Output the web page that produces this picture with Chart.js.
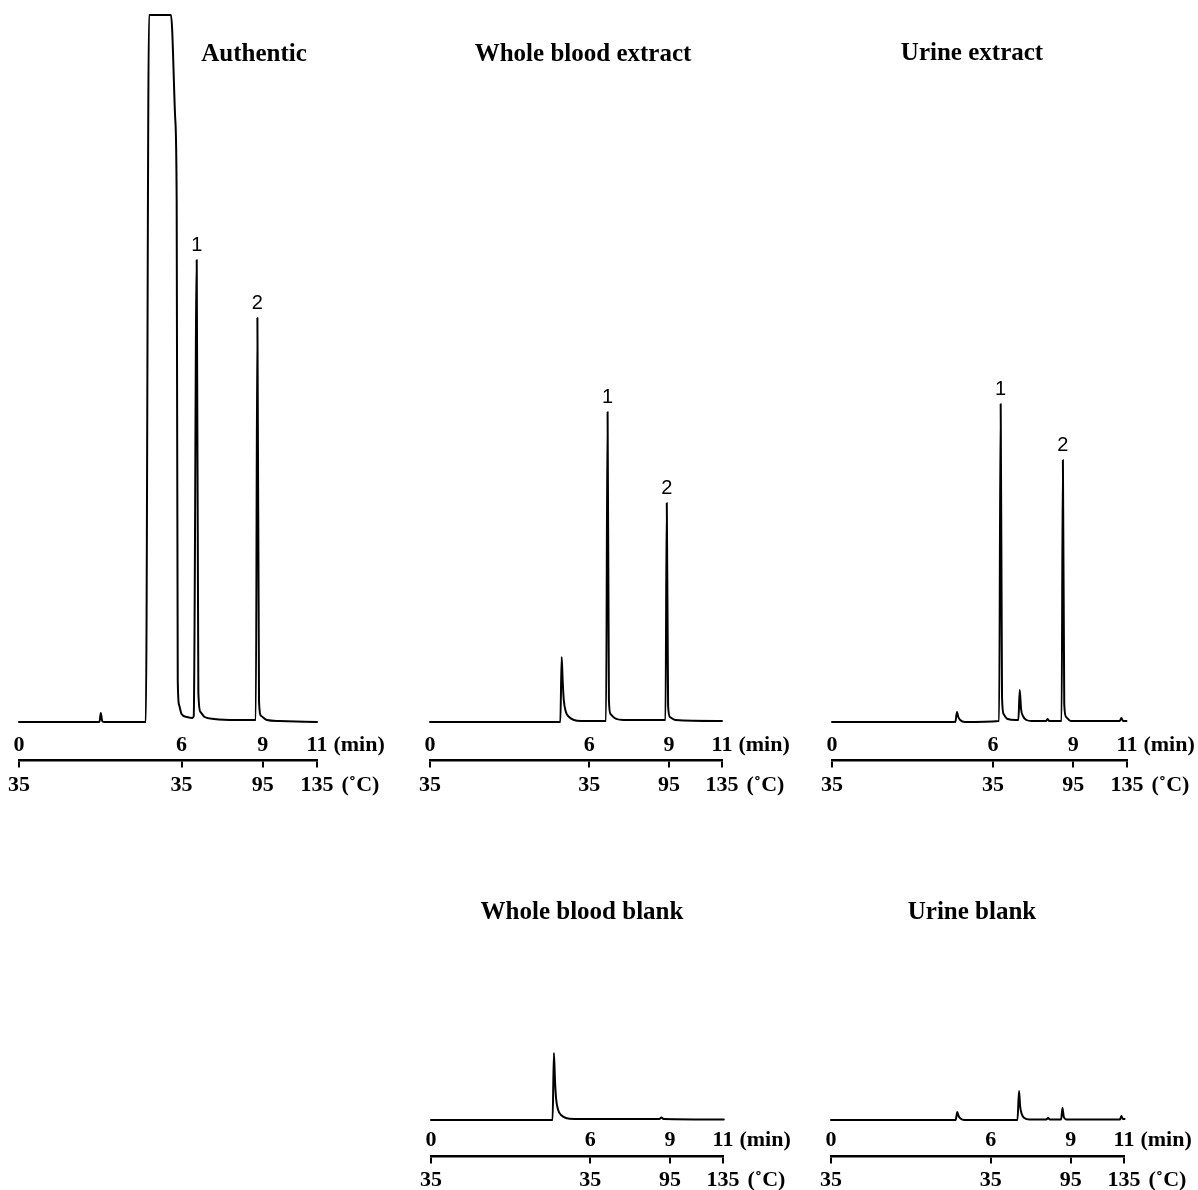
<!DOCTYPE html>
<html><head><meta charset="utf-8">
<script src="https://cdn.jsdelivr.net/npm/chart.js@4.4.1/dist/chart.umd.min.js"></script>
<style>
html,body{margin:0;padding:0;background:#fff;overflow:hidden;}
#wrap{position:relative;width:1198px;height:1190px;background:#fff;}
canvas{position:absolute;display:block;}
</style></head>
<body><div id="wrap">
<canvas id="c1" width="400" height="800" style="left:0px;top:0px"></canvas>
<canvas id="c2" width="400" height="800" style="left:400px;top:0px"></canvas>
<canvas id="c3" width="398" height="800" style="left:800px;top:0px"></canvas>
<canvas id="c4" width="400" height="390" style="left:400px;top:800px"></canvas>
<canvas id="c5" width="398" height="390" style="left:800px;top:800px"></canvas>
</div>
<script>
// ---------- DATA ----------
const tickValues = [0, 6, 9, 11];
const minTickLabels = ['0', '6', '9', '11'];
const tempTickLabels = ['35', '35', '95', '135'];
const minUnit = '(min)';
const tempUnit = '(\u02DAC)';

const titles = ['Authentic', 'Whole blood extract', 'Urine extract', 'Whole blood blank', 'Urine blank'];

// Authentic
const authTime   = [0.00, 2.97, 3.02, 3.07, 3.14, 4.68, 4.80, 5.61, 5.76, 5.82, 5.86, 5.91, 6.00, 6.20, 6.40, 6.45, 6.56, 6.62, 6.70, 6.85, 7.20, 8.00, 8.74, 8.80, 8.86, 8.94, 9.15, 9.60, 11.00];
const authSignal = [0, 0, 9, 1, 0, 0, 707, 707, 607, 522, 42, 17, 8, 5, 4, 6, 462, 30, 10, 5, 3, 2, 2, 404, 20, 6, 2, 1, 0];
const authPeakTimes = [6.56, 8.80];
const authPeakNames = ['1', '2'];

// Whole blood extract
const bloodTime   = [0.00, 4.91, 4.96, 5.00, 5.04, 5.12, 5.24, 5.42, 5.70, 6.63, 6.69, 6.74, 6.80, 6.95, 7.30, 8.87, 8.92, 8.97, 9.04, 9.25, 11.00];
const bloodSignal = [0, 0, 65, 40, 22, 10, 5, 2, 1, 1, 310, 22, 8, 4, 2, 2, 219, 16, 5, 2, 1];
const bloodPeakTimes = [6.69, 8.92];
const bloodPeakNames = ['1', '2'];

// Urine extract
const urineTime   = [0.00, 4.60, 4.66, 4.71, 4.78, 4.95, 6.23, 6.29, 6.34, 6.40, 6.55, 6.85, 6.95, 7.00, 7.05, 7.12, 7.25, 7.45, 7.98, 8.04, 8.10, 8.56, 8.61, 8.66, 8.73, 8.90, 10.73, 10.79, 10.85, 10.98];
const urineSignal = [0, 0, 10, 5, 2, 0, 1, 318, 25, 8, 3, 2, 2, 32, 13, 6, 2, 1, 1, 3, 1, 1, 262, 18, 5, 1, 1, 4, 1, 1];
const urinePeakTimes = [6.29, 8.61];
const urinePeakNames = ['1', '2'];

// Whole blood blank
const bloodBlankTime   = [0.00, 4.58, 4.63, 4.67, 4.71, 4.79, 4.90, 5.08, 5.40, 8.60, 8.68, 8.76, 11.03];
const bloodBlankSignal = [0, 0, 67, 40, 22, 10, 5, 2, 1, 1, 2.5, 1, 0.5];

// Urine blank
const urineBlankTime   = [0.00, 4.68, 4.74, 4.79, 4.86, 5.00, 7.00, 7.06, 7.10, 7.16, 7.26, 7.45, 8.08, 8.15, 8.22, 8.64, 8.69, 8.74, 8.85, 10.85, 10.90, 10.96, 11.02];
const urineBlankSignal = [0, 0, 8, 4, 1.5, 0, 0, 29, 14, 6, 2, 0.5, 0.5, 2, 0.5, 0.5, 12, 3, 0.5, 0.5, 4, 1, 1];

// ---------- RENDERING ----------
const decorPlugin = {
  id: 'decor',
  afterDraw(chart, args, opts) {
    const ctx = chart.ctx;
    ctx.save();
    ctx.fillStyle = '#000';
    // title
    ctx.font = 'bold 25px "Liberation Serif"';
    ctx.textAlign = 'center';
    ctx.textBaseline = 'alphabetic';
    ctx.fillText(opts.title, opts.titleX, opts.titleY);
    // peak labels
    const xs = chart.scales.x, ys = chart.scales.y;
    const pts = chart.data.datasets[0].data;
    ctx.font = '20px "Liberation Sans"';
    (opts.peakTimes || []).forEach((t, i) => {
      const p = pts.find(d => d.x === t);
      if (!p) return;
      ctx.fillText(opts.peakNames[i], xs.getPixelForValue(p.x), ys.getPixelForValue(p.y) - 9);
    });
    // unit suffixes after the last tick label
    [['xm', minUnit, 6], ['x', tempUnit, 8]].forEach(([id, unit, gap]) => {
      const sc = chart.scales[id];
      const items = sc.getLabelItems();
      const last = items[items.length - 1];
      ctx.font = last.font.string;
      const w = ctx.measureText(last.label).width;
      ctx.textAlign = 'left';
      ctx.textBaseline = 'middle';
      ctx.fillText(unit, last.options.translation[0] + w / 2 + gap, last.options.translation[1] + last.textOffset);
    });
    ctx.restore();
  }
};

const tickFont = { family: '"Liberation Serif"', size: 22, weight: 'bold', lineHeight: 1.2 };

function makePanel(p) {
  const data = p.time.map((t, i) => ({ x: t, y: p.signal[i] }));
  const setTicks = (ax) => { ax.ticks = tickValues.map(v => ({ value: v })); };
  new Chart(document.getElementById(p.id), {
    type: 'line',
    data: { datasets: [{
      data,
      borderColor: '#000',
      borderWidth: 2,
      pointRadius: 0,
      cubicInterpolationMode: 'monotone',
      borderJoinStyle: 'round',
      borderCapStyle: 'round',
      fill: false,
      clip: false
    }] },
    options: {
      responsive: false,
      animation: false,
      devicePixelRatio: 1,
      events: [],
      layout: { padding: {
        left: p.area.left - p.frame.left,
        right: p.frame.left + p.frame.width - p.area.right,
        top: p.area.top - p.frame.top,
        bottom: p.frame.top + p.frame.height - p.area.bottom
      } },
      plugins: {
        legend: { display: false },
        tooltip: { enabled: false },
        title: { display: false },
        decor: {
          title: p.title,
          titleX: p.titleX - p.frame.left,
          titleY: p.titleY - p.frame.top,
          peakTimes: p.peakTimes,
          peakNames: p.peakNames
        }
      },
      scales: {
        y: { type: 'linear', min: p.yMin, max: p.yMax, display: false },
        x: {
          type: 'linear', axis: 'x', min: 0, max: 11,
          position: { y: p.yMin },
          afterBuildTicks: setTicks,
          ticks: { autoSkip: false, maxRotation: 0, minRotation: 0, padding: p.tempPad, color: '#000', font: tickFont,
                   callback: (v, i) => tempTickLabels[i] },
          grid: { display: true, drawOnChartArea: false, drawTicks: true, tickLength: 6, color: '#000', lineWidth: 2 },
          border: { display: true, color: '#000', width: 2.5 }
        },
        xm: {
          type: 'linear', axis: 'x', min: 0, max: 11,
          position: { y: 0 },
          afterBuildTicks: setTicks,
          ticks: { autoSkip: false, maxRotation: 0, minRotation: 0, padding: p.minPad, color: '#000', font: tickFont,
                   callback: (v, i) => minTickLabels[i] },
          grid: { display: false, drawTicks: false, drawOnChartArea: false },
          border: { display: false }
        }
      }
    },
    plugins: [decorPlugin]
  });
}

const topFrameH = 800, botFrameH = 390;
makePanel({ id: 'c1', frame: { left: 0, top: 0, width: 400, height: topFrameH },
  area: { left: 19, right: 317, top: 15, bottom: 760 }, yMin: -38, yMax: 707, minPad: 9.8, tempPad: 5.8,
  title: titles[0], titleX: 254, titleY: 61,
  time: authTime, signal: authSignal, peakTimes: authPeakTimes, peakNames: authPeakNames });
makePanel({ id: 'c2', frame: { left: 400, top: 0, width: 400, height: topFrameH },
  area: { left: 430, right: 722, top: 15, bottom: 760 }, yMin: -38, yMax: 707, minPad: 9.8, tempPad: 5.8,
  title: titles[1], titleX: 583, titleY: 61,
  time: bloodTime, signal: bloodSignal, peakTimes: bloodPeakTimes, peakNames: bloodPeakNames });
makePanel({ id: 'c3', frame: { left: 800, top: 0, width: 398, height: topFrameH },
  area: { left: 832, right: 1127, top: 15, bottom: 760 }, yMin: -38, yMax: 707, minPad: 9.8, tempPad: 5.8,
  title: titles[2], titleX: 972, titleY: 60,
  time: urineTime, signal: urineSignal, peakTimes: urinePeakTimes, peakNames: urinePeakNames });
makePanel({ id: 'c4', frame: { left: 400, top: 800, width: 400, height: botFrameH },
  area: { left: 431, right: 723, top: 920, bottom: 1156 }, yMin: -36, yMax: 200, minPad: 6.8, tempPad: 4.8,
  title: titles[3], titleX: 582, titleY: 919,
  time: bloodBlankTime, signal: bloodBlankSignal, peakTimes: [], peakNames: [] });
makePanel({ id: 'c5', frame: { left: 800, top: 800, width: 398, height: botFrameH },
  area: { left: 831, right: 1124, top: 920, bottom: 1156 }, yMin: -36, yMax: 200, minPad: 6.8, tempPad: 4.8,
  title: titles[4], titleX: 972, titleY: 919,
  time: urineBlankTime, signal: urineBlankSignal, peakTimes: [], peakNames: [] });
</script>
</body></html>
